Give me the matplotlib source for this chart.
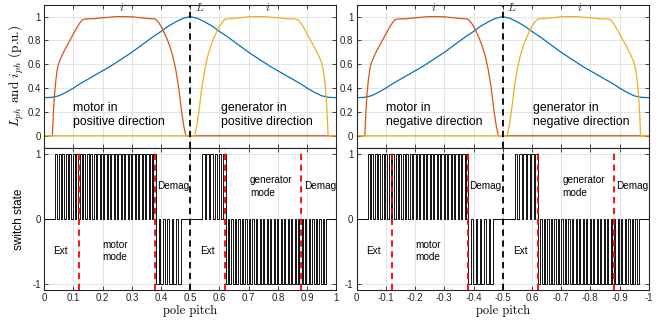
import numpy as np
import matplotlib
matplotlib.use('Agg')
import matplotlib.pyplot as plt

plt.rcParams['font.family'] = ['Liberation Sans', 'DejaVu Sans']
plt.rcParams['mathtext.fontset'] = 'cm'

# ---------------- data ----------------
pitch_ticks = [0, 0.1, 0.2, 0.3, 0.4, 0.5, 0.6, 0.7, 0.8, 0.9, 1]
left_xticklabels = ['0', '0.1', '0.2', '0.3', '0.4', '0.5', '0.6', '0.7', '0.8', '0.9', '1']
right_xticklabels = ['0', '-0.1', '-0.2', '-0.3', '-0.4', '-0.5', '0.6', '-0.7', '-0.8', '-0.9', '-1']
top_yticks = [0, 0.2, 0.4, 0.6, 0.8, 1]
top_yticklabels = ['0', '0.2', '0.4', '0.6', '0.8', '1']
bot_yticks = [-1, 0, 1]
bot_yticklabels = ['-1', '0', '1']

# phase inductance (p.u.)
L_x = [0, 0.025, 0.05, 0.075, 0.1, 0.125, 0.15, 0.175, 0.2, 0.225, 0.25, 0.275, 0.3,
       0.325, 0.35, 0.375, 0.4, 0.425, 0.45, 0.475, 0.5, 0.525, 0.55, 0.575, 0.6,
       0.625, 0.65, 0.675, 0.7, 0.725, 0.75, 0.775, 0.8, 0.825, 0.85, 0.875, 0.9,
       0.925, 0.95, 0.975, 1.0]
L_y = [0.32, 0.322, 0.335, 0.365, 0.40, 0.44, 0.475, 0.51, 0.545, 0.58, 0.62, 0.66, 0.70,
       0.745, 0.79, 0.835, 0.875, 0.92, 0.955, 0.985, 1.0, 0.985, 0.955, 0.92, 0.875,
       0.835, 0.79, 0.745, 0.70, 0.66, 0.62, 0.58, 0.545, 0.51, 0.475, 0.44, 0.40,
       0.365, 0.335, 0.322, 0.32]

# motor-mode phase current (p.u.)
i_motor_x = [0, 0.028, 0.031, 0.035, 0.04, 0.045, 0.05, 0.06, 0.07, 0.08, 0.09, 0.1,
             0.11, 0.12, 0.13, 0.14, 0.17, 0.2, 0.25, 0.3, 0.33, 0.36, 0.38, 0.39, 0.40,
             0.41, 0.42, 0.43, 0.44, 0.45, 0.46, 0.47, 0.478, 0.485, 1.0]
i_motor_y = [0, 0, 0.18, 0.34, 0.47, 0.56, 0.61, 0.67, 0.72, 0.765, 0.81, 0.855,
             0.9, 0.94, 0.972, 0.98, 0.982, 0.99, 1.0, 0.998, 0.99, 0.983, 0.98, 0.955, 0.92,
             0.87, 0.815, 0.75, 0.67, 0.56, 0.41, 0.21, 0.08, 0, 0]

# generator-mode phase current (p.u.)
i_gen_x = [0, 0.515, 0.522, 0.53, 0.54, 0.55, 0.56, 0.57, 0.58, 0.59, 0.60, 0.61, 0.62,
           0.64, 0.67, 0.70, 0.75, 0.80, 0.83, 0.86, 0.87, 0.88, 0.89, 0.90, 0.91, 0.92,
           0.93, 0.94, 0.95, 0.955, 0.96, 0.965, 0.969, 0.972, 1.0]
i_gen_y = [0, 0, 0.08, 0.21, 0.41, 0.56, 0.67, 0.75, 0.815, 0.87, 0.92, 0.955, 0.98,
           0.983, 0.99, 0.998, 1.0, 0.99, 0.982, 0.98, 0.972, 0.94, 0.9, 0.855, 0.81, 0.765,
           0.72, 0.67, 0.61, 0.56, 0.47, 0.34, 0.18, 0, 0]

# switching pattern: (start, end, number of pulses, active level)
switch_segments = [(0.037, 0.382, 29, 1),
                   (0.382, 0.467, 6, -1),
                   (0.541, 0.621, 6, 1),
                   (0.621, 0.966, 29, -1)]
duty = 0.65
mode_boundaries = [0.12, 0.38, 0.62, 0.88]
aligned_position = 0.5

# ---------------- build switching waveform ----------------
sw_x = [0.0]
sw_y = [0.0]


def goto(x, y):
    sw_x.append(x)
    sw_y.append(sw_y[-1])
    sw_x.append(x)
    sw_y.append(y)


for start, end, n, level in switch_segments:
    T = (end - start) / (n - 1 + duty)
    for k in range(n):
        t = start + k * T
        goto(t, level)
        if k < n - 1:
            goto(t + duty * T, 0)
    goto(end, 0)
goto(1.0, 0)

# ---------------- figure ----------------
fig = plt.figure(figsize=(6.68, 3.26), dpi=100)
blue, orange, yellow = '#0072BD', '#D95319', '#EDB120'
edge = '#262626'

panels = [
    dict(left=0.0662, xt=left_xticklabels, motor='motor in\npositive direction',
         gen='generator in\npositive direction', ylab=True),
    dict(left=0.534, xt=right_xticklabels, motor='motor in\nnegative direction',
         gen='generator in\nnegative direction', ylab=False),
]
w = 0.4372
for p in panels:
    axt = fig.add_axes([p['left'], 0.547, w, 0.4387])
    axb = fig.add_axes([p['left'], 0.1104, w, 0.4366])
    for ax in (axt, axb):
        ax.set_xlim(0, 1)
        ax.set_xticks(pitch_ticks)
        ax.grid(True, color='#E3E3E3', linewidth=0.7)
        ax.set_axisbelow(True)
        ax.tick_params(direction='in', length=3, width=0.6, top=True, right=True,
                       labelsize=7, colors=edge, pad=2.5)
        for s in ax.spines.values():
            s.set_color(edge)
            s.set_linewidth(0.8)
    # top
    axt.set_ylim(-0.1, 1.1)
    axt.set_yticks(top_yticks)
    axt.set_yticklabels(top_yticklabels)
    axt.set_xticklabels([])
    axt.plot(L_x, L_y, color=blue, lw=0.9)
    axt.plot(i_motor_x, i_motor_y, color=orange, lw=0.9)
    axt.plot(i_gen_x, i_gen_y, color=yellow, lw=0.9)
    axt.axvline(aligned_position, color='k', lw=1.3, ls=(0, (3.5, 2.5)))
    axt.text(0.265, 1.02, '$i$', fontsize=8.5, ha='center', va='bottom', color='#333333')
    axt.text(0.515, 1.02, '$L$', fontsize=8.5, ha='left', va='bottom', color='#333333')
    axt.text(0.765, 1.02, '$i$', fontsize=8.5, ha='center', va='bottom', color='#333333')
    axt.text(0.1, 0.175, p['motor'], fontsize=8.8, ha='left', va='center', linespacing=1.3)
    axt.text(0.604, 0.175, p['gen'], fontsize=8.8, ha='left', va='center', linespacing=1.3)
    if p['ylab']:
        axt.set_ylabel(r'$L_{ph}$ and $i_{ph}$ (p.u.)', fontsize=9.5, family='cmr10', labelpad=1)
    # bottom
    axb.set_ylim(-1.1, 1.1)
    axb.set_yticks(bot_yticks)
    axb.set_yticklabels(bot_yticklabels)
    axb.set_xticklabels(p['xt'])
    axb.plot(sw_x, sw_y, color='k', lw=0.65)
    for b in mode_boundaries:
        axb.axvline(b, color='#FF0000', lw=1.3, ls=(0, (3.5, 2.5)))
    axb.axvline(aligned_position, color='k', lw=1.3, ls=(0, (3.5, 2.5)))
    fs = 7.2
    axb.text(0.032, -0.5, 'Ext', fontsize=fs, ha='left', va='center')
    axb.text(0.2, -0.5, 'motor\nmode', fontsize=fs, ha='left', va='center', linespacing=1.3)
    axb.text(0.386, 0.5, 'Demag', fontsize=fs, ha='left', va='center')
    axb.text(0.535, -0.5, 'Ext', fontsize=fs, ha='left', va='center')
    axb.text(0.704, 0.5, 'generator\nmode', fontsize=fs, ha='left', va='center', linespacing=1.3)
    axb.text(0.889, 0.5, 'Demag', fontsize=fs, ha='left', va='center')
    axb.set_xlabel('pole pitch', fontsize=9, family='cmr10', labelpad=1)
    if p['ylab']:
        axb.set_ylabel('switch state', fontsize=8.5, labelpad=5)

fig.savefig('out.png', dpi=100, facecolor='white')
